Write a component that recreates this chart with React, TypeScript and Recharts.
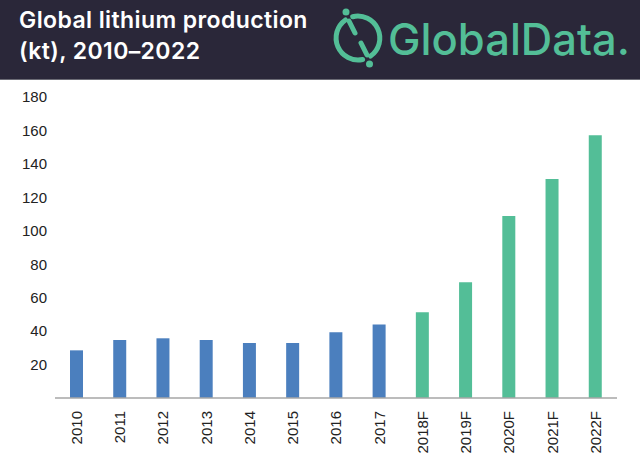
import { BarChart, Bar, XAxis, YAxis, Cell } from "recharts";

const years = ["2010", "2011", "2012", "2013", "2014", "2015", "2016", "2017", "2018F", "2019F", "2020F", "2021F", "2022F"];
const production = [28.5, 34.7, 35.7, 34.7, 32.9, 32.9, 39.3, 43.9, 51.3, 69.2, 108.9, 130.9, 157.1];
const forecast = [false, false, false, false, false, false, false, false, true, true, true, true, true];
const yTicks = [20, 40, 60, 80, 100, 120, 140, 160, 180];

const BLUE = "#4b7fbe";
const GREEN = "#53be97";
const HEADER = "#2a2739";

const data = years.map((y, i) => ({ year: y, value: production[i], forecast: forecast[i] }));

// rotated year labels hanging below the axis
const YearTick = (props: any) => {
    const { x, y, payload } = props;
    return (
        <text
            transform={`translate(${x},${y + 5}) rotate(-90)`}
            textAnchor="end"
            dy="0.36em"
            fontSize={15}
            fill="#222"
            fontFamily="'Liberation Sans', Arial, sans-serif"
        >
            {payload.value}
        </text>
    );
};

function Logo() {
    return (
        <svg width={640} height={80} style={{ position: "absolute", left: 0, top: 0 }}>
            <g fill="none" stroke={GREEN} strokeWidth={5} strokeLinecap="round">
                <path d="M 345.4 20 A 22 22 0 0 0 362.6 59.5" />
                <path d="M 352.7 16.7 A 22 22 0 0 1 370.6 56" />
                <line x1={349} y1={21} x2={355} y2={33} />
                <line x1={361} y1={43} x2={367} y2={55} />
            </g>
            <circle cx={346} cy={12} r={3.5} fill={GREEN} />
            <circle cx={369.5} cy={64} r={3.5} fill={GREEN} />
            <text
                x={388}
                y={55}
                fontSize={44}
                fontWeight={500}
                fill={GREEN}
                fontFamily="Inter, 'Noto Sans', sans-serif"
                textLength={242}
                lengthAdjust="spacingAndGlyphs"
            >
                GlobalData.
            </text>
        </svg>
    );
}

export default function App() {
    return (
        <div style={{ position: "absolute", left: 0, top: 0, width: 640, height: 474, background: "#fff", overflow: "hidden" }}>
            <div
                style={{
                    position: "absolute",
                    left: 0,
                    top: 0,
                    width: 640,
                    height: 79,
                    background: HEADER,
                    borderBottom: "1px solid #6b6b75",
                }}
            >
                <Logo />
                <div
                    style={{
                        position: "absolute",
                        left: 19,
                        top: 5,
                        color: "#fff",
                        fontFamily: "Inter, 'Noto Sans', sans-serif",
                        fontWeight: 600,
                        fontSize: 23,
                        lineHeight: "31px",
                        letterSpacing: 0.4,
                    }}
                >
                    Global lithium production
                    <br />
                    (kt), 2010–2022
                </div>
            </div>
            <div style={{ position: "absolute", left: 0, top: 0 }}>
                <BarChart
                    width={640}
                    height={474}
                    data={data}
                    margin={{ top: 97, right: 23, bottom: 0, left: 8 }}
                    barCategoryGap={0}
                >
                    <XAxis
                        dataKey="year"
                        interval={0}
                        tickLine={false}
                        axisLine={{ stroke: "#a6a6a6", strokeWidth: 1.5 }}
                        tick={<YearTick />}
                        height={76}
                    />
                    <YAxis
                        domain={[0, 180]}
                        ticks={yTicks}
                        width={47}
                        tickLine={false}
                        axisLine={false}
                        tick={{ fontSize: 15, fill: "#222", fontFamily: "'Liberation Sans', Arial, sans-serif" }}
                    />
                    <Bar dataKey="value" barSize={13} isAnimationActive={false}>
                        {data.map((d) => (
                            <Cell key={d.year} fill={d.forecast ? GREEN : BLUE} />
                        ))}
                    </Bar>
                </BarChart>
            </div>
        </div>
    );
}
